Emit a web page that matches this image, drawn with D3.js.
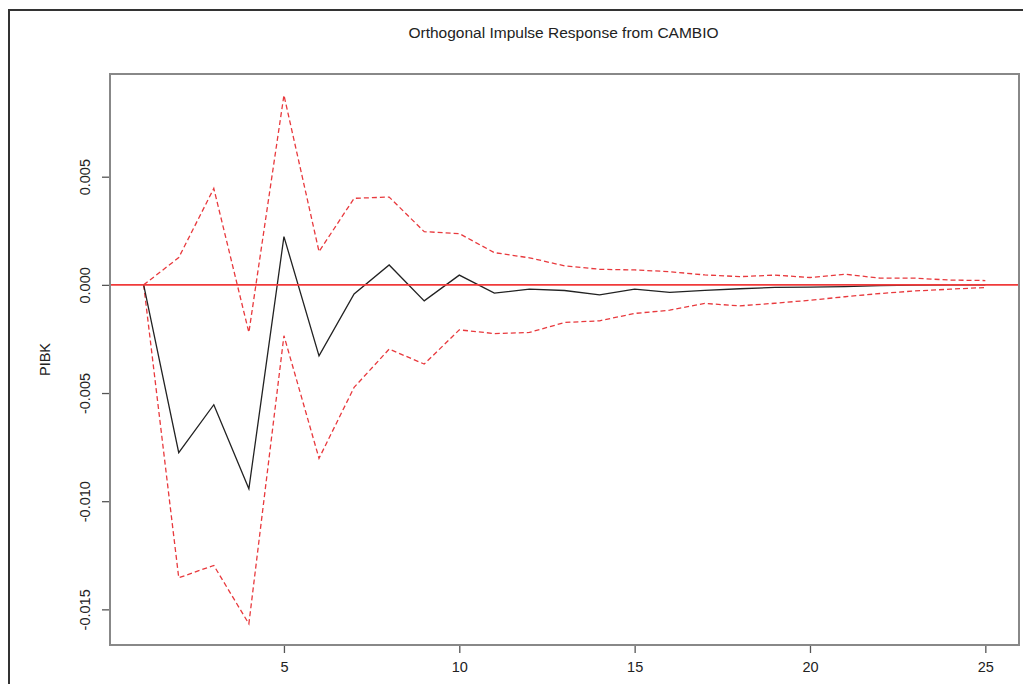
<!DOCTYPE html>
<html>
<head>
<meta charset="utf-8">
<script src="https://cdn.jsdelivr.net/npm/d3@7"></script>
<style>
  html, body { margin: 0; padding: 0; background: #fff; }
  svg { display: block; font-family: "Liberation Sans", Arial, sans-serif; }
</style>
</head>
<body>
<svg id="chart" width="1023" height="684"></svg>
<script>
// Orthogonal impulse response of PIBK to a CAMBIO shock, with bootstrap bands
const horizon = d3.range(1, 26);
const irf = [0, -0.00776, -0.00554, -0.00943, 0.00223, -0.00328, -0.00042, 0.00092,
  -0.00074, 0.00045, -0.00038, -0.00020, -0.00026, -0.00046, -0.00020, -0.00035,
  -0.00025, -0.00018, -0.00012, -0.00010, -0.00008, -0.00003, -0.00001, 0, 0];
const upper = [0, 0.00126, 0.00446, -0.00220, 0.00877, 0.00154, 0.00400, 0.00406,
  0.00246, 0.00237, 0.00149, 0.00125, 0.00088, 0.00072, 0.00069, 0.00061,
  0.00046, 0.00038, 0.00045, 0.00034, 0.00049, 0.00031, 0.00031, 0.00022, 0.00020];
const lower = [0, -0.01354, -0.01297, -0.01567, -0.00235, -0.00802, -0.00474, -0.00297,
  -0.00366, -0.00208, -0.00225, -0.00220, -0.00174, -0.00166, -0.00132, -0.00117,
  -0.00086, -0.00097, -0.00085, -0.00071, -0.00055, -0.00040, -0.00028, -0.00020, -0.00012];
const xTicks = [5, 10, 15, 20, 25];
const yTicks = [0.005, 0.000, -0.005, -0.010, -0.015];
const yTickLabels = ["0.005", "0.000", "-0.005", "-0.010", "-0.015"];
const titleText = "Orthogonal Impulse Response from CAMBIO";
const yLabel = "PIBK";

const svg = d3.select("#chart");
const box = { left: 110, right: 1019, top: 74, bottom: 645 };

// R-style 4% padding around the data range
const xMin = 1, xMax = 25;
const xPad = (xMax - xMin) * 0.04;
const yLo = d3.min(lower), yHi = d3.max(upper);
const yPad = (yHi - yLo) * 0.04;

const x = d3.scaleLinear().domain([xMin - xPad, xMax + xPad]).range([box.left, box.right]);
const y = d3.scaleLinear().domain([yLo - yPad, yHi + yPad]).range([box.bottom, box.top]);

// outer device frame
svg.append("path")
  .attr("d", `M9,684 L9,10 L1023,10`)
  .attr("fill", "none").attr("stroke", "#333").attr("stroke-width", 2);

// title
svg.append("text")
  .attr("x", (box.left + box.right) / 2 - 1).attr("y", 38)
  .attr("text-anchor", "middle").attr("font-size", 15.5).attr("fill", "#222")
  .text(titleText);

// y axis label
svg.append("text")
  .attr("transform", `translate(50,${(box.top + box.bottom) / 2}) rotate(-90)`)
  .attr("text-anchor", "middle").attr("font-size", 14.5).attr("fill", "#222")
  .text(yLabel);

// axes
const xAxis = svg.append("g")
  .attr("transform", `translate(0,${box.bottom})`)
  .call(d3.axisBottom(x).tickValues(xTicks).tickSize(8).tickPadding(6).tickFormat(d3.format("d")));
const yAxis = svg.append("g")
  .attr("transform", `translate(${box.left},0)`)
  .call(d3.axisLeft(y).tickValues(yTicks).tickSize(8).tickPadding(4)
    .tickFormat((d, i) => yTickLabels[i]));

[xAxis, yAxis].forEach(g => {
  g.select(".domain").remove();
  g.selectAll(".tick line").attr("stroke", "#555").attr("stroke-width", 1.3);
  g.selectAll(".tick text").attr("font-size", 14.5).attr("fill", "#222")
    .attr("font-family", "'Liberation Sans', Arial, sans-serif");
});
xAxis.selectAll(".tick text").attr("dy", "0.9em");
yAxis.selectAll(".tick text")
  .attr("text-anchor", "middle")
  .attr("transform", "translate(-25,0) rotate(-90)")
  .attr("x", 0).attr("dy", "0.35em");

// plot box
svg.append("rect")
  .attr("x", box.left).attr("y", box.top)
  .attr("width", box.right - box.left).attr("height", box.bottom - box.top)
  .attr("fill", "none").attr("stroke", "#888").attr("stroke-width", 2);

const line = d3.line().x((d, i) => x(horizon[i])).y(d => y(d));

// confidence bands
[upper, lower].forEach(series => {
  svg.append("path").datum(series)
    .attr("d", line).attr("fill", "none")
    .attr("stroke", "#e8393d").attr("stroke-width", 1.3)
    .attr("stroke-dasharray", "5,3");
});

// response path
svg.append("path").datum(irf)
  .attr("d", line).attr("fill", "none")
  .attr("stroke", "#222").attr("stroke-width", 1.3);

// zero reference line
svg.append("line")
  .attr("x1", box.left + 1).attr("x2", box.right - 1)
  .attr("y1", y(0)).attr("y2", y(0))
  .attr("stroke", "#f03a3a").attr("stroke-width", 1.6);
</script>
</body>
</html>
